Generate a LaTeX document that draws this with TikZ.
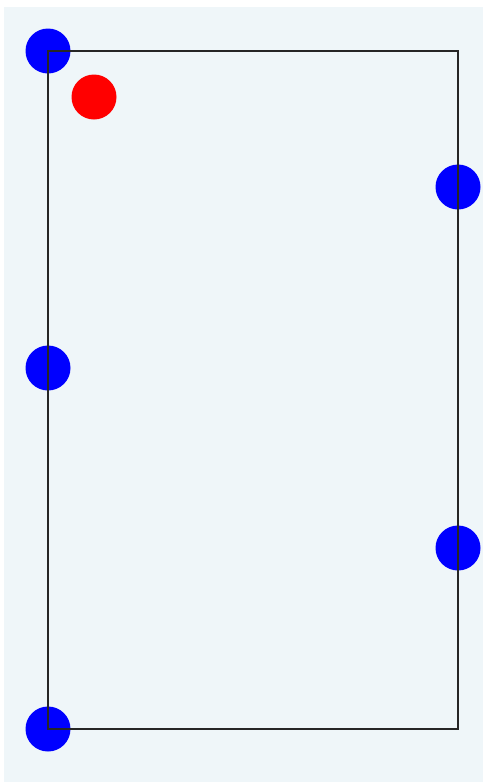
\documentclass[tikz,border=0pt]{standalone}
\definecolor{bgc}{HTML}{EFF6F9}
\definecolor{bluedot}{HTML}{0000FF}
\definecolor{reddot}{HTML}{FF0000}
\begin{document}
\begin{tikzpicture}[x=1pt,y=-1pt,
  dot/.style={circle,minimum size=45pt,inner sep=0pt,draw=none,fill=bluedot},
  reddotstyle/.style={circle,minimum size=45pt,inner sep=0pt,draw=none,fill=reddot}]
\useasboundingbox (0,0) rectangle (483,782);
\fill[white] (0,0) rectangle (483,782);
\fill[bgc] (4,7) rectangle (483,782);
\node[dot] (a) at (48,51) {};
\node[dot] (b) at (458,187) {};
\node[dot] (c) at (48,368) {};
\node[dot] (d) at (458,548) {};
\node[dot] (e) at (48,729) {};
\node[reddotstyle] (r) at (94,97) {};
\coordinate (tr) at (458,51);
\coordinate (br) at (458,729);
\draw[line width=1.6pt,color=black!85] (a.center) -- (tr) -- (br) -- (e.center) -- cycle;
\end{tikzpicture}
\end{document}
